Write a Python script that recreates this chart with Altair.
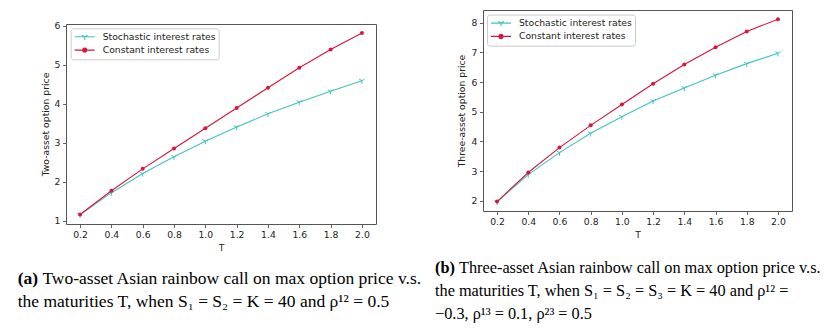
import altair as alt
import pandas as pd

# ---------------- data ----------------
T = [0.2, 0.4, 0.6, 0.8, 1.0, 1.2, 1.4, 1.6, 1.8, 2.0]
two_stoch = [1.15, 1.72, 2.21, 2.64, 3.04, 3.40, 3.74, 4.04, 4.32, 4.59]
two_const = [1.16, 1.77, 2.33, 2.85, 3.37, 3.89, 4.41, 4.92, 5.39, 5.81]
three_stoch = [1.96, 2.88, 3.62, 4.27, 4.83, 5.36, 5.80, 6.23, 6.62, 6.97]
three_const = [1.97, 2.95, 3.79, 4.54, 5.24, 5.94, 6.59, 7.17, 7.70, 8.12]

SERIES = ["Stochastic interest rates", "Constant interest rates"]
COLORS = ["#3fc6bc", "#dc143c"]

two_yticks = [1, 2, 3, 4, 5, 6]
three_yticks = [2, 3, 4, 5, 6, 7, 8]

cap_a_label = "(a)"
cap_a_lines = [
    "Two-asset Asian rainbow call on max option price v.s.",
    "the maturities T, when S\u2081 = S\u2082 = K = 40 and \u03c1\u00b9\u00b2 = 0.5",
]
cap_b_label = "(b)"
cap_b_lines = [
    "Three-asset Asian rainbow call on max option price v.s.",
    "the maturities T, when S\u2081 = S\u2082 = S\u2083 = K = 40 and \u03c1\u00b9\u00b2 =",
    "\u22120.3, \u03c1\u00b9\u00b3 = 0.1, \u03c1\u00b2\u00b3 = 0.5",
]

# ---------------- styling ----------------
SANS = "DejaVu Sans"
SERIF = "Liberation Serif"
FS = 9.25
TXT = "#222222"

TRI = "M0,0L0,1M0,0L-0.866,-0.5M0,0L0.866,-0.5"
LEG_TRI = "M-1,0L1,0M0,0L0,0.32M0,0L-0.28,-0.16M0,0L0.28,-0.16"
LEG_DOT = ("M-1,0L1,0"
           "M0.2,0A0.2,0.2,0,1,1,-0.2,0A0.2,0.2,0,1,1,0.2,0Z"
           "M0.1,0A0.1,0.1,0,1,1,-0.1,0A0.1,0.1,0,1,1,0.1,0Z")

one = pd.DataFrame({"k": [0]})


def panel(stoch, const, ytitle, ydomain, yticks, width, height, legxy,
          ytitle_pad, label, lines_txt, cap_x, cap_y, cap_fs, label_w, top_ext):
    df = pd.DataFrame({
        "T": T + T,
        "price": stoch + const,
        "series": [SERIES[0]] * len(T) + [SERIES[1]] * len(T),
    })
    base = alt.Chart(df)
    x = alt.X("T:Q", scale=alt.Scale(domain=[0.11, 2.09], nice=False, zero=False),
              axis=alt.Axis(values=T, format=".1f", title="T", titlePadding=4,
                            labelFlush=False, labelOverlap=False))
    y = alt.Y("price:Q", scale=alt.Scale(domain=ydomain, nice=False, zero=False),
              axis=alt.Axis(values=yticks, format="d", title=ytitle,
                            titlePadding=ytitle_pad, labelOverlap=False))

    s_data = base.transform_filter(alt.datum.series == SERIES[0])
    c_data = base.transform_filter(alt.datum.series == SERIES[1])

    s_line = s_data.mark_line(strokeWidth=1.1, color=COLORS[0]).encode(x=x, y=y)
    c_line = c_data.mark_line(strokeWidth=1.1, color=COLORS[1]).encode(x=x, y=y)
    s_pts = s_data.mark_point(shape=TRI, size=40, filled=False, strokeWidth=1,
                              opacity=1, color=COLORS[0]).encode(x=x, y=y)
    c_pts = c_data.mark_point(shape="circle", size=16, filled=True, opacity=1,
                              color=COLORS[1]).encode(x=x, y=y)

    leg = alt.Legend(
        title=None, orient="none", legendX=legxy[0], legendY=legxy[1],
        padding=3, rowPadding=2.3, symbolSize=400, clipHeight=11,
        labelOffset=7, labelFont=SANS, labelFontSize=FS, labelColor=TXT,
        labelLimit=400, strokeColor="#cccccc", fillColor="white",
        cornerRadius=2.5, symbolStrokeWidth=1.1, symbolOpacity=1,
    )
    cscale = alt.Scale(domain=SERIES, range=COLORS)
    legend_layer = base.mark_point(filled=False, opacity=0).encode(
        x=x, y=y,
        color=alt.Color("series:N", scale=cscale, legend=leg),
        shape=alt.Shape("series:N",
                        scale=alt.Scale(domain=SERIES, range=[LEG_TRI, LEG_DOT]),
                        legend=leg),
    )

    caps = [
        alt.Chart(one).mark_text(
            text=label, font=SERIF, fontSize=cap_fs, fontWeight="bold",
            align="left", baseline="alphabetic", color="black"
        ).encode(x=alt.value(cap_x), y=alt.value(cap_y[0]))
    ]
    for i, line in enumerate(lines_txt):
        caps.append(
            alt.Chart(one).mark_text(
                text=line, font=SERIF, fontSize=cap_fs, align="left",
                baseline="alphabetic", color="black"
            ).encode(x=alt.value(cap_x + (label_w if i == 0 else 0)),
                     y=alt.value(cap_y[i]))
        )
    layers = [s_line, c_line, s_pts, c_pts, legend_layer] + caps
    if top_ext is not None:
        layers.append(
            alt.Chart(one).mark_rule(strokeOpacity=0).encode(
                x=alt.value(0), x2=alt.value(top_ext[0]), y=alt.value(top_ext[1]))
        )
    return alt.layer(*layers).properties(width=width, height=height)


left = panel(two_stoch, two_const, "Two-asset option price", [0.917, 6.043],
             two_yticks, 310, 200, (4.7, 4.3), 4, cap_a_label, cap_a_lines,
             -48.3, [260, 283], 17.5, 24.7, (360, -12))
right = panel(three_stoch, three_const, "Three-asset option price", [1.652, 8.428],
              three_yticks, 309, 201, (4.0, 4.6), 5, cap_b_label, cap_b_lines,
              -48, [263, 286, 309], 16.3, 24, None)

spacer = alt.Chart(one).mark_rule(strokeOpacity=0).encode(
    x=alt.value(0), x2=alt.value(1), y=alt.value(0)
).properties(width=1, height=1, view=alt.ViewBackground(strokeOpacity=0))

left_col = alt.vconcat(spacer, left, spacing=0).resolve_scale(
    color="independent", shape="independent"
).resolve_legend(
    color="independent", shape="independent"
)

chart = alt.hconcat(left_col, right, spacing=7).resolve_scale(
    color="independent", shape="independent"
).resolve_legend(
    color="independent", shape="independent"
).properties(
    padding={"left": 9, "top": 1, "right": 0, "bottom": 0}
).configure_view(
    stroke="#555555", strokeWidth=1
).configure_axis(
    domain=False, grid=False, tickSize=3.5, tickColor="#555555", tickWidth=0.9,
    labelFont=SANS, labelFontSize=FS, labelColor=TXT, labelPadding=2.5,
    titleFont=SANS, titleFontSize=FS, titleFontWeight="normal", titleColor=TXT,
)

chart.save("out.html", embed_options={"renderer": "svg", "actions": False})
